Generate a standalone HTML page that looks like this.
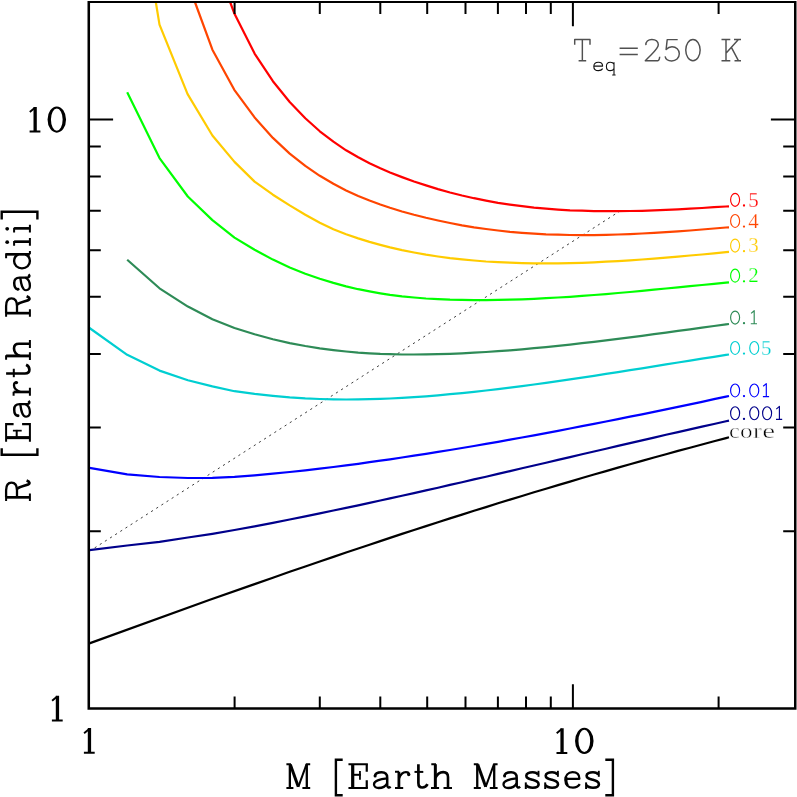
<!DOCTYPE html>
<html><head><meta charset="utf-8"><title>plot</title>
<style>
html,body{margin:0;padding:0;background:#fff;}
body{width:797px;height:797px;overflow:hidden;font-family:"Liberation Serif",serif;}
svg{display:block;position:absolute;left:0;top:0;}
text{font-family:"Liberation Serif",serif;}
.lab{font-size:20.5px;letter-spacing:1.3px;}
</style></head><body>
<svg width="797" height="797" viewBox="0 0 797 797">
<rect x="0" y="0" width="797" height="797" fill="#fff"/>
<line x1="89.5" y1="551.2" x2="619.6" y2="211.3" stroke="#333" stroke-width="0.95" stroke-dasharray="2.2 3.9"/>
<path d="M230.1,2.0 L234.5,13.8 L254.6,53.6 L272.9,81.2 L289.7,102.0 L305.3,118.3 L319.8,131.3 L333.4,141.7 L346.1,150.3 L358.2,157.3 L369.5,163.3 L380.3,168.3 L390.0,172.5 L402.0,177.1 L414.0,181.5 L426.0,185.4 L438.0,189.1 L450.0,192.5 L462.0,195.5 L474.0,198.2 L486.0,200.6 L498.0,202.8 L510.0,204.6 L522.0,206.2 L534.0,207.6 L546.0,208.7 L558.0,209.6 L570.0,210.3 L582.0,210.7 L594.0,211.1 L606.0,211.2 L618.0,211.2 L630.0,211.0 L642.0,210.8 L654.0,210.4 L666.0,209.9 L678.0,209.3 L690.0,208.7 L702.0,208.0 L714.0,207.2 L726.0,206.5 L729.0,206.3" fill="none" stroke="#ff0000" stroke-width="2.2" stroke-linejoin="round"/>
<path d="M194.9,2.0 L212.4,49.7 L234.3,89.8 L254.6,117.4 L272.9,137.9 L289.7,153.6 L305.3,165.9 L319.8,175.8 L333.4,183.8 L346.1,190.4 L358.2,195.9 L369.5,200.5 L380.3,204.5 L390.0,207.8 L402.0,211.5 L414.0,214.8 L426.0,217.8 L438.0,220.5 L450.0,223.0 L462.0,225.3 L474.0,227.3 L486.0,229.0 L498.0,230.5 L510.0,231.8 L522.0,232.8 L534.0,233.6 L546.0,234.3 L558.0,234.7 L570.0,235.0 L582.0,235.1 L594.0,235.1 L606.0,234.9 L618.0,234.5 L630.0,234.1 L642.0,233.5 L654.0,232.9 L666.0,232.2 L678.0,231.3 L690.0,230.5 L702.0,229.5 L714.0,228.5 L726.0,227.5 L729.0,227.3" fill="none" stroke="#ff4500" stroke-width="2.2" stroke-linejoin="round"/>
<path d="M155.8,2.0 L159.5,24.6 L187.6,94.1 L212.4,135.5 L234.5,161.9 L254.6,181.6 L272.9,194.7 L289.7,205.4 L305.3,214.8 L319.8,222.8 L333.4,229.3 L346.1,234.3 L358.2,238.4 L369.5,241.9 L380.3,244.9 L390.0,247.4 L402.0,250.1 L414.0,252.5 L426.0,254.7 L438.0,256.5 L450.0,258.1 L462.0,259.4 L474.0,260.5 L486.0,261.5 L498.0,262.2 L510.0,262.7 L522.0,263.1 L534.0,263.3 L546.0,263.4 L558.0,263.3 L570.0,263.1 L582.0,262.8 L594.0,262.3 L606.0,261.7 L618.0,261.1 L630.0,260.3 L642.0,259.5 L654.0,258.6 L666.0,257.6 L678.0,256.6 L690.0,255.5 L702.0,254.5 L714.0,253.3 L726.0,252.2 L729.0,251.9" fill="none" stroke="#ffcb00" stroke-width="2.2" stroke-linejoin="round"/>
<path d="M127.2,92.3 L159.5,158.1 L187.8,196.5 L212.4,220.1 L234.5,237.6 L254.6,249.8 L272.9,259.6 L289.7,267.4 L305.3,273.7 L319.8,278.8 L333.4,282.9 L346.1,286.4 L358.2,289.2 L369.5,291.4 L380.3,293.3 L390.0,294.8 L402.0,296.3 L414.0,297.5 L426.0,298.5 L438.0,299.2 L450.0,299.7 L462.0,299.9 L474.0,300.1 L486.0,300.1 L498.0,299.9 L510.0,299.6 L522.0,299.3 L534.0,298.8 L546.0,298.2 L558.0,297.5 L570.0,296.8 L582.0,295.9 L594.0,295.0 L606.0,294.1 L618.0,293.0 L630.0,292.0 L642.0,290.9 L654.0,289.7 L666.0,288.5 L678.0,287.4 L690.0,286.2 L702.0,285.0 L714.0,283.8 L726.0,282.6 L729.0,282.3" fill="none" stroke="#00ff00" stroke-width="2.2" stroke-linejoin="round"/>
<path d="M127.2,259.7 L159.5,288.3 L187.9,306.6 L212.4,319.2 L234.5,328.0 L254.6,334.3 L272.9,339.2 L289.7,343.1 L305.3,346.0 L319.8,348.3 L333.4,350.1 L346.1,351.5 L358.2,352.6 L369.5,353.3 L380.3,353.9 L390.0,354.2 L402.0,354.5 L414.0,354.5 L426.0,354.4 L438.0,354.2 L450.0,353.8 L462.0,353.3 L474.0,352.7 L486.0,352.0 L498.0,351.2 L510.0,350.3 L522.0,349.3 L534.0,348.2 L546.0,347.1 L558.0,345.8 L570.0,344.6 L582.0,343.2 L594.0,341.8 L606.0,340.4 L618.0,338.9 L630.0,337.3 L642.0,335.8 L654.0,334.2 L666.0,332.6 L678.0,330.9 L690.0,329.3 L702.0,327.7 L714.0,326.0 L726.0,324.4 L729.0,324.0" fill="none" stroke="#2e8b57" stroke-width="2.2" stroke-linejoin="round"/>
<path d="M89.5,328.0 L127.2,354.8 L159.5,370.6 L187.9,380.2 L212.4,386.4 L234.5,391.2 L254.6,393.9 L272.9,395.9 L289.7,397.4 L305.3,398.4 L319.8,399.0 L333.4,399.4 L346.1,399.5 L358.2,399.4 L369.5,399.2 L380.3,398.9 L390.0,398.5 L402.0,397.9 L414.0,397.1 L426.0,396.3 L438.0,395.3 L450.0,394.2 L462.0,393.1 L474.0,391.8 L486.0,390.5 L498.0,389.1 L510.0,387.6 L522.0,386.1 L534.0,384.5 L546.0,382.8 L558.0,381.1 L570.0,379.4 L582.0,377.6 L594.0,375.8 L606.0,373.9 L618.0,372.1 L630.0,370.2 L642.0,368.3 L654.0,366.4 L666.0,364.4 L678.0,362.5 L690.0,360.6 L702.0,358.7 L714.0,356.8 L726.0,354.9 L729.0,354.5" fill="none" stroke="#00ced1" stroke-width="2.2" stroke-linejoin="round"/>
<path d="M89.5,467.8 L127.2,474.3 L159.5,477.0 L187.9,478.0 L212.4,477.8 L234.5,476.8 L254.6,475.3 L272.9,473.7 L289.7,472.0 L305.3,470.3 L319.8,468.7 L333.4,467.0 L346.1,465.4 L358.2,463.8 L369.5,462.2 L380.3,460.7 L390.0,459.3 L402.0,457.5 L414.0,455.7 L426.0,453.9 L438.0,451.9 L450.0,450.0 L462.0,448.0 L474.0,446.0 L486.0,443.9 L498.0,441.8 L510.0,439.7 L522.0,437.5 L534.0,435.3 L546.0,433.1 L558.0,430.8 L570.0,428.5 L582.0,426.2 L594.0,423.9 L606.0,421.5 L618.0,419.1 L630.0,416.7 L642.0,414.3 L654.0,411.8 L666.0,409.3 L678.0,406.8 L690.0,404.3 L702.0,401.8 L714.0,399.2 L726.0,396.6 L729.0,396.0" fill="none" stroke="#0000ff" stroke-width="2.2" stroke-linejoin="round"/>
<path d="M89.5,550.1 L127.2,545.5 L159.5,541.8 L187.9,537.5 L212.4,533.8 L234.5,530.0 L254.6,526.3 L272.9,522.8 L289.7,519.5 L305.3,516.3 L319.8,513.4 L333.4,510.5 L346.1,507.9 L358.2,505.3 L369.5,502.9 L380.3,500.5 L390.0,498.4 L402.0,495.7 L414.0,493.1 L426.0,490.4 L438.0,487.7 L450.0,484.9 L462.0,482.2 L474.0,479.4 L486.0,476.7 L498.0,473.9 L510.0,471.1 L522.0,468.3 L534.0,465.5 L546.0,462.7 L558.0,459.9 L570.0,457.1 L582.0,454.3 L594.0,451.5 L606.0,448.7 L618.0,445.9 L630.0,443.1 L642.0,440.4 L654.0,437.6 L666.0,434.8 L678.0,432.1 L690.0,429.4 L702.0,426.6 L714.0,424.0 L726.0,421.3 L729.0,420.6" fill="none" stroke="#00008b" stroke-width="2.2" stroke-linejoin="round"/>
<path d="M89.4,643.4 L209.2,600.0 L254.6,584.1 L272.9,577.7 L289.7,571.8 L305.3,566.5 L319.8,561.5 L333.4,556.9 L346.1,552.5 L358.2,548.5 L369.5,544.7 L380.3,541.1 L390.0,537.9 L402.0,533.9 L414.0,530.0 L426.0,526.1 L438.0,522.2 L450.0,518.4 L462.0,514.6 L474.0,510.8 L486.0,507.1 L498.0,503.3 L510.0,499.6 L522.0,496.0 L534.0,492.3 L546.0,488.7 L558.0,485.1 L570.0,481.6 L582.0,478.0 L594.0,474.5 L606.0,471.1 L618.0,467.6 L630.0,464.2 L642.0,460.9 L654.0,457.5 L666.0,454.2 L678.0,450.9 L690.0,447.7 L702.0,444.5 L714.0,441.3 L726.0,438.1 L729.0,437.3" fill="none" stroke="#000000" stroke-width="2.2" stroke-linejoin="round"/>
<path d="M87.5,1.1H796.5V709.7H87.5Z M90.05,2.95V707.3H794.0V2.95Z" fill="#000" fill-rule="evenodd"/>
<path d="M234.6,708.5 v-12.0 M234.6,2.0 v12.0 M88.8,531.2 h12.0 M795.2,531.2 h-12.0 M319.8,708.5 v-12.0 M319.8,2.0 v12.0 M88.8,427.5 h12.0 M795.2,427.5 h-12.0 M380.3,708.5 v-12.0 M380.3,2.0 v12.0 M88.8,353.9 h12.0 M795.2,353.9 h-12.0 M427.2,708.5 v-12.0 M427.2,2.0 v12.0 M88.8,296.8 h12.0 M795.2,296.8 h-12.0 M465.5,708.5 v-12.0 M465.5,2.0 v12.0 M88.8,250.2 h12.0 M795.2,250.2 h-12.0 M497.9,708.5 v-12.0 M497.9,2.0 v12.0 M88.8,210.7 h12.0 M795.2,210.7 h-12.0 M526.0,708.5 v-12.0 M526.0,2.0 v12.0 M88.8,176.6 h12.0 M795.2,176.6 h-12.0 M550.8,708.5 v-12.0 M550.8,2.0 v12.0 M88.8,146.5 h12.0 M795.2,146.5 h-12.0 M572.9,708.5 v-24.3 M572.9,2.0 v24.3 M88.8,119.5 h24.3 M795.2,119.5 h-24.3 M718.6,708.5 v-12.0 M718.6,2.0 v12.0" fill="none" stroke="#000" stroke-width="2"/>
<path d="M33.50,106.90 h3.3 v25.7 h-3.3 Z M29.60,130.60 h10.8 v2.0 h-10.8 Z" fill="#000"/><path d="M29.80,112.00 L34.90,107.70" stroke="#000" stroke-width="1.9" fill="none"/>
<path d="M47.55,119.60 a9.25,13.05 0 1,0 18.50,0 a9.25,13.05 0 1,0 -18.50,0 Z M50.95,119.60 a5.85,11.10 0 1,0 11.70,0 a5.85,11.10 0 1,0 -11.70,0 Z" fill="#000" fill-rule="evenodd"/>
<path d="M55.80,695.70 h3.3 v25.7 h-3.3 Z M51.90,719.40 h10.8 v2.0 h-10.8 Z" fill="#000"/><path d="M52.10,700.80 L57.20,696.50" stroke="#000" stroke-width="1.9" fill="none"/>
<path d="M87.80,728.10 h3.3 v25.7 h-3.3 Z M83.90,751.80 h10.8 v2.0 h-10.8 Z" fill="#000"/><path d="M84.10,733.20 L89.20,728.90" stroke="#000" stroke-width="1.9" fill="none"/>
<path d="M560.40,728.20 h3.3 v25.7 h-3.3 Z M556.50,751.90 h10.8 v2.0 h-10.8 Z" fill="#000"/><path d="M556.70,733.30 L561.80,729.00" stroke="#000" stroke-width="1.9" fill="none"/>
<path d="M575.05,740.90 a9.25,13.05 0 1,0 18.50,0 a9.25,13.05 0 1,0 -18.50,0 Z M578.45,740.90 a5.85,11.10 0 1,0 11.70,0 a5.85,11.10 0 1,0 -11.70,0 Z" fill="#000" fill-rule="evenodd"/>
<g style="opacity:0.999" stroke="#fff" stroke-width="0.55">
<g stroke="none"><ellipse cx="735.10" cy="199.85" rx="4.5" ry="6.5" fill="none" stroke="#ff0000" stroke-width="1.15"/><circle cx="744.00" cy="205.50" r="1.15" fill="#ff0000"/><text x="748.20" y="206.6" fill="#ff0000" font-size="21" stroke="#fff" stroke-width="0.25">5</text></g>
<g stroke="none"><ellipse cx="735.10" cy="220.95" rx="4.5" ry="6.5" fill="none" stroke="#ff4500" stroke-width="1.15"/><circle cx="744.00" cy="226.60" r="1.15" fill="#ff4500"/><text x="748.20" y="227.7" fill="#ff4500" font-size="21" stroke="#fff" stroke-width="0.25">4</text></g>
<g stroke="none"><ellipse cx="735.10" cy="245.55" rx="4.5" ry="6.5" fill="none" stroke="#ffcb00" stroke-width="1.15"/><circle cx="744.00" cy="251.20" r="1.15" fill="#ffcb00"/><text x="748.20" y="252.3" fill="#ffcb00" font-size="21" stroke="#fff" stroke-width="0.25">3</text></g>
<g stroke="none"><ellipse cx="735.10" cy="275.65" rx="4.5" ry="6.5" fill="none" stroke="#00ff00" stroke-width="1.15"/><circle cx="744.00" cy="281.30" r="1.15" fill="#00ff00"/><text x="748.20" y="282.4" fill="#00ff00" font-size="21" stroke="#fff" stroke-width="0.25">2</text></g>
<g stroke="none"><ellipse cx="735.10" cy="317.55" rx="4.5" ry="6.5" fill="none" stroke="#2e8b57" stroke-width="1.15"/><circle cx="744.00" cy="323.20" r="1.15" fill="#2e8b57"/><path d="M751.10,313.40 L754.20,310.70 V323.70 M750.80,323.70 h6.2" fill="none" stroke="#2e8b57" stroke-width="1.15" stroke-linejoin="round"/></g>
<g stroke="none"><ellipse cx="735.10" cy="347.95" rx="4.5" ry="6.5" fill="none" stroke="#00ced1" stroke-width="1.15"/><circle cx="744.00" cy="353.60" r="1.15" fill="#00ced1"/><ellipse cx="754.25" cy="347.95" rx="4.5" ry="6.5" fill="none" stroke="#00ced1" stroke-width="1.15"/><text x="761.00" y="354.7" fill="#00ced1" font-size="21" stroke="#fff" stroke-width="0.25">5</text></g>
<g stroke="none"><ellipse cx="735.10" cy="390.45" rx="4.5" ry="6.5" fill="none" stroke="#0000ff" stroke-width="1.15"/><circle cx="744.00" cy="396.10" r="1.15" fill="#0000ff"/><ellipse cx="754.25" cy="390.45" rx="4.5" ry="6.5" fill="none" stroke="#0000ff" stroke-width="1.15"/><path d="M763.20,386.30 L766.30,383.60 V396.60 M762.90,396.60 h6.2" fill="none" stroke="#0000ff" stroke-width="1.15" stroke-linejoin="round"/></g>
<g stroke="none"><ellipse cx="735.10" cy="413.25" rx="4.5" ry="6.5" fill="none" stroke="#00008b" stroke-width="1.15"/><circle cx="744.00" cy="418.90" r="1.15" fill="#00008b"/><ellipse cx="754.25" cy="413.25" rx="4.5" ry="6.5" fill="none" stroke="#00008b" stroke-width="1.15"/><ellipse cx="767.10" cy="413.25" rx="4.5" ry="6.5" fill="none" stroke="#00008b" stroke-width="1.15"/><path d="M776.30,409.10 L779.40,406.40 V419.40 M776.00,419.40 h6.2" fill="none" stroke="#00008b" stroke-width="1.15" stroke-linejoin="round"/></g>
<g stroke-width="0.5"><text transform="translate(728.99,438.00) scale(1.103,1)" font-size="22" fill="#000000">c</text><text transform="translate(739.96,438.00) scale(1.144,1)" font-size="22" fill="#000000">o</text><text transform="translate(752.97,438.00) scale(1.207,1)" font-size="22" fill="#000000">r</text><text transform="translate(762.34,438.00) scale(1.314,1)" font-size="22" fill="#000000">e</text></g>
<path transform="translate(574.00,61.40)" d="M0.7,-16.6V-21.9H16.0V-16.6 M8.35,-21.9V-0.6 M4.6,-0.6H12.2" fill="none" stroke="#505050" stroke-width="1.45" stroke-linejoin="round"/>
<path transform="translate(619.60,61.40)" d="M0,-13.2H18.2 M0,-6.9H18.2" fill="none" stroke="#505050" stroke-width="1.45" stroke-linejoin="round"/>
<path transform="translate(644.70,61.40)" d="M1.2,-16.2C0.8,-19.5 3.5,-22 7.2,-22C11,-22 13.6,-19.8 13.6,-16.6C13.6,-12.5 9,-9.5 0.6,-0.7L13.2,-0.7C14.2,-0.7 14.8,-2.5 15,-4.6" fill="none" stroke="#505050" stroke-width="1.45" stroke-linejoin="round"/>
<path transform="translate(664.40,61.40)" d="M13.3,-21.8L2.8,-21.8L1.7,-11.8C3.5,-13.8 5.5,-14.6 7.6,-14.6C11.8,-14.6 14.9,-11.8 14.9,-7.6C14.9,-3.4 11.5,-0.5 7.3,-0.5C3.8,-0.5 1.2,-2.3 0.7,-5" fill="none" stroke="#505050" stroke-width="1.45" stroke-linejoin="round"/>
<path transform="translate(685.10,61.40)" d="M0.65,-11.3a7.2,10.7 0 1,0 14.4,0a7.2,10.7 0 1,0 -14.4,0Z" fill="none" stroke="#505050" stroke-width="1.45" stroke-linejoin="round"/>
<path transform="translate(721.50,61.40)" d="M0,-21.9H8.8 M0,-0.6H8.8 M4.5,-21.9V-0.6 M4.5,-8.2L16.9,-21.8 M12.5,-21.9H19.5 M10,-13.8L16.9,-0.7 M13,-0.6H19.5" fill="none" stroke="#505050" stroke-width="1.45" stroke-linejoin="round"/>
<path transform="translate(593.20,70.80)" d="M0.6,-4.7L9.4,-4.7C9.4,-7.5 7.5,-8.6 5.2,-8.6C2.4,-8.6 0.6,-6.8 0.6,-4.4C0.6,-1.8 2.6,-0.2 5.3,-0.2C7.2,-0.2 8.6,-0.9 9.5,-2.2" fill="none" stroke="#111" stroke-width="1.1" stroke-linejoin="round"/>
<path transform="translate(605.80,70.80)" d="M8.2,-6.5C7.5,-8 6,-8.6 4.5,-8.6C2,-8.6 0.6,-6.8 0.6,-4.4C0.6,-2 2,-0.2 4.5,-0.2C6,-0.2 7.5,-1 8.2,-2.4 M8.2,-8.6V4.2 M6.4,4.2H9.8" fill="none" stroke="#111" stroke-width="1.1" stroke-linejoin="round"/>
</g>
<g style="opacity:0.999">
<g transform="translate(286.40,789.00)"><path d="M0,-24.8H4.6 M19.4,-24.8H23.8 M0,-1H7 M16,-1H23.8" fill="none" stroke="#000" stroke-width="2.0" stroke-linejoin="round"/><path d="M3.45,-24.8V-1 M20.4,-24.8V-1" fill="none" stroke="#000" stroke-width="2.3" stroke-linejoin="round"/><path d="M3.9,-24.6L11.9,-2.2" fill="none" stroke="#000" stroke-width="3.0" stroke-linejoin="round"/><path d="M20.1,-24.6L11.9,-2.2" fill="none" stroke="#000" stroke-width="2.0" stroke-linejoin="round"/></g>
<g transform="translate(348.45,789.00)"><path d="M0,-24.8H19.4 M0,-1H19.4" fill="none" stroke="#000" stroke-width="2.0" stroke-linejoin="round"/><path d="M4.25,-24.8V-1" fill="none" stroke="#000" stroke-width="3.2" stroke-linejoin="round"/><path d="M18.3,-24.8V-17.3 M18.3,-1V-8.8" fill="none" stroke="#000" stroke-width="2.2" stroke-linejoin="round"/><path d="M4.25,-14.2H12.3" fill="none" stroke="#000" stroke-width="2.0" stroke-linejoin="round"/><path d="M11.5,-18V-9.2" fill="none" stroke="#000" stroke-width="1.8" stroke-linejoin="round"/></g>
<g transform="translate(372.60,789.00)"><path d="M2.3,-12.8C2.6,-16 6,-16.7 9,-16.7C13,-16.7 14.6,-14.6 14.6,-11.3L14.6,-4C14.6,-1.4 16.2,-0.7 18,-2.4" fill="none" stroke="#000" stroke-width="2.5" stroke-linejoin="round"/><path d="M14.6,-10.6C9,-9.9 1.4,-9 1.4,-4.8C1.4,-2 3.6,-1 6,-1C9.5,-1 13,-2.6 14.6,-5.6" fill="none" stroke="#000" stroke-width="2.3" stroke-linejoin="round"/><circle cx="2.5" cy="-12.9" r="1.5" fill="#000"/></g>
<g transform="translate(395.00,789.00)"><path d="M0,-17.3H4 M0,-1H8.2" fill="none" stroke="#000" stroke-width="2.0" stroke-linejoin="round"/><path d="M3.9,-17.3V-1" fill="none" stroke="#000" stroke-width="2.8" stroke-linejoin="round"/><path d="M3.9,-10.5C5.5,-14.8 8,-16.9 10.9,-16.9C12.6,-16.9 13.9,-16.0 13.9,-14.6" fill="none" stroke="#000" stroke-width="2.3" stroke-linejoin="round"/><circle cx="13.7" cy="-14.5" r="1.7" fill="#000"/></g>
<g transform="translate(414.50,789.00)"><path d="M3.9,-24.8L3.9,-6C3.9,-2.8 5.5,-1.5 7.8,-1.5C10.2,-1.5 12,-2.8 13,-4.8" fill="none" stroke="#000" stroke-width="2.7" stroke-linejoin="round"/><path d="M0,-17.1H8.8" fill="none" stroke="#000" stroke-width="2.0" stroke-linejoin="round"/></g>
<g transform="translate(431.00,789.00)"><path d="M0.3,-24.8H5 M0,-1H8.1 M12.5,-1H21" fill="none" stroke="#000" stroke-width="2.0" stroke-linejoin="round"/><path d="M4.35,-24.8V-1" fill="none" stroke="#000" stroke-width="3.0" stroke-linejoin="round"/><path d="M4.35,-11C6,-14.8 9,-16.9 12.2,-16.9C15.5,-16.9 17,-15.2 17,-12L17,-1" fill="none" stroke="#000" stroke-width="2.6" stroke-linejoin="round"/></g>
<g transform="translate(473.80,789.00)"><path d="M0,-24.8H4.6 M19.4,-24.8H23.8 M0,-1H7 M16,-1H23.8" fill="none" stroke="#000" stroke-width="2.0" stroke-linejoin="round"/><path d="M3.45,-24.8V-1 M20.4,-24.8V-1" fill="none" stroke="#000" stroke-width="2.3" stroke-linejoin="round"/><path d="M3.9,-24.6L11.9,-2.2" fill="none" stroke="#000" stroke-width="3.0" stroke-linejoin="round"/><path d="M20.1,-24.6L11.9,-2.2" fill="none" stroke="#000" stroke-width="2.0" stroke-linejoin="round"/></g>
<g transform="translate(502.10,789.00)"><path d="M2.3,-12.8C2.6,-16 6,-16.7 9,-16.7C13,-16.7 14.6,-14.6 14.6,-11.3L14.6,-4C14.6,-1.4 16.2,-0.7 18,-2.4" fill="none" stroke="#000" stroke-width="2.5" stroke-linejoin="round"/><path d="M14.6,-10.6C9,-9.9 1.4,-9 1.4,-4.8C1.4,-2 3.6,-1 6,-1C9.5,-1 13,-2.6 14.6,-5.6" fill="none" stroke="#000" stroke-width="2.3" stroke-linejoin="round"/><circle cx="2.5" cy="-12.9" r="1.5" fill="#000"/></g>
<g transform="translate(524.70,789.00)"><path d="M13.4,-14.4C12.4,-16.1 10.5,-16.8 8,-16.8C4.5,-16.8 1.6,-15.7 1.6,-13.3C1.6,-10.8 4,-10.3 7.5,-9.3C11,-8.3 13.9,-7.6 13.9,-4.8C13.9,-2.2 11,-1.3 8,-1.3C5,-1.3 2.6,-2.2 1.4,-4" fill="none" stroke="#000" stroke-width="2.6" stroke-linejoin="round"/><path d="M13.8,-18.2V-12.2" fill="none" stroke="#000" stroke-width="1.9" stroke-linejoin="round"/><path d="M1.1,-6.6V0" fill="none" stroke="#000" stroke-width="2.0" stroke-linejoin="round"/></g>
<g transform="translate(544.10,789.00)"><path d="M13.4,-14.4C12.4,-16.1 10.5,-16.8 8,-16.8C4.5,-16.8 1.6,-15.7 1.6,-13.3C1.6,-10.8 4,-10.3 7.5,-9.3C11,-8.3 13.9,-7.6 13.9,-4.8C13.9,-2.2 11,-1.3 8,-1.3C5,-1.3 2.6,-2.2 1.4,-4" fill="none" stroke="#000" stroke-width="2.6" stroke-linejoin="round"/><path d="M13.8,-18.2V-12.2" fill="none" stroke="#000" stroke-width="1.9" stroke-linejoin="round"/><path d="M1.1,-6.6V0" fill="none" stroke="#000" stroke-width="2.0" stroke-linejoin="round"/></g>
<g transform="translate(563.50,789.00)"><path d="M1.8,-10.2L15.9,-10.2C15.9,-14.6 13,-16.8 9,-16.8C4.5,-16.8 1.9,-13.3 1.9,-9C1.9,-4.6 4.5,-1.3 9.5,-1.3C12.5,-1.3 14.8,-2.5 16.3,-4.8" fill="none" stroke="#000" stroke-width="2.3" stroke-linejoin="round"/><path d="M2.6,-12C2.4,-8 2.8,-5.5 4.2,-3.6" fill="none" stroke="#000" stroke-width="2.6" stroke-linejoin="round"/></g>
<g transform="translate(585.00,789.00)"><path d="M13.4,-14.4C12.4,-16.1 10.5,-16.8 8,-16.8C4.5,-16.8 1.6,-15.7 1.6,-13.3C1.6,-10.8 4,-10.3 7.5,-9.3C11,-8.3 13.9,-7.6 13.9,-4.8C13.9,-2.2 11,-1.3 8,-1.3C5,-1.3 2.6,-2.2 1.4,-4" fill="none" stroke="#000" stroke-width="2.6" stroke-linejoin="round"/><path d="M13.8,-18.2V-12.2" fill="none" stroke="#000" stroke-width="1.9" stroke-linejoin="round"/><path d="M1.1,-6.6V0" fill="none" stroke="#000" stroke-width="2.0" stroke-linejoin="round"/></g>
<path d="M342.7,759.7H335.9V795.2H342.7 M605.3,759.7H612.9V795.2H605.3" fill="none" stroke="#000" stroke-width="2.4"/>
<g transform="translate(30.90,500.90) rotate(-90) scale(0.96,1)"><path d="M0,-24.8H5.3 M0,-1H7.8" fill="none" stroke="#000" stroke-width="2.0" stroke-linejoin="round"/><path d="M3.7,-24.8V-1" fill="none" stroke="#000" stroke-width="2.8" stroke-linejoin="round"/><path d="M3.7,-24.8L11,-24.8C16.5,-24.8 19,-22.5 19,-19.4C19,-16 16.5,-13.9 11,-13.9L3.7,-13.9" fill="none" stroke="#000" stroke-width="2.3" stroke-linejoin="round"/><path d="M12.3,-13.9C15,-12 15.6,-6 17.1,-2.8C18,-0.8 20,-0.9 21.3,-4.3" fill="none" stroke="#000" stroke-width="2.7" stroke-linejoin="round"/></g>
<g transform="translate(30.90,441.70) rotate(-90) scale(0.96,1)"><path d="M0,-24.8H19.4 M0,-1H19.4" fill="none" stroke="#000" stroke-width="2.0" stroke-linejoin="round"/><path d="M4.25,-24.8V-1" fill="none" stroke="#000" stroke-width="3.2" stroke-linejoin="round"/><path d="M18.3,-24.8V-17.3 M18.3,-1V-8.8" fill="none" stroke="#000" stroke-width="2.2" stroke-linejoin="round"/><path d="M4.25,-14.2H12.3" fill="none" stroke="#000" stroke-width="2.0" stroke-linejoin="round"/><path d="M11.5,-18V-9.2" fill="none" stroke="#000" stroke-width="1.8" stroke-linejoin="round"/></g>
<g transform="translate(30.90,418.10) rotate(-90) scale(0.96,1)"><path d="M2.3,-12.8C2.6,-16 6,-16.7 9,-16.7C13,-16.7 14.6,-14.6 14.6,-11.3L14.6,-4C14.6,-1.4 16.2,-0.7 18,-2.4" fill="none" stroke="#000" stroke-width="2.5" stroke-linejoin="round"/><path d="M14.6,-10.6C9,-9.9 1.4,-9 1.4,-4.8C1.4,-2 3.6,-1 6,-1C9.5,-1 13,-2.6 14.6,-5.6" fill="none" stroke="#000" stroke-width="2.3" stroke-linejoin="round"/><circle cx="2.5" cy="-12.9" r="1.5" fill="#000"/></g>
<g transform="translate(30.90,395.70) rotate(-90) scale(0.96,1)"><path d="M0,-17.3H4 M0,-1H8.2" fill="none" stroke="#000" stroke-width="2.0" stroke-linejoin="round"/><path d="M3.9,-17.3V-1" fill="none" stroke="#000" stroke-width="2.8" stroke-linejoin="round"/><path d="M3.9,-10.5C5.5,-14.8 8,-16.9 10.9,-16.9C12.6,-16.9 13.9,-16.0 13.9,-14.6" fill="none" stroke="#000" stroke-width="2.3" stroke-linejoin="round"/><circle cx="13.7" cy="-14.5" r="1.7" fill="#000"/></g>
<g transform="translate(30.90,377.20) rotate(-90) scale(0.96,1)"><path d="M3.9,-24.8L3.9,-6C3.9,-2.8 5.5,-1.5 7.8,-1.5C10.2,-1.5 12,-2.8 13,-4.8" fill="none" stroke="#000" stroke-width="2.7" stroke-linejoin="round"/><path d="M0,-17.1H8.8" fill="none" stroke="#000" stroke-width="2.0" stroke-linejoin="round"/></g>
<g transform="translate(30.90,360.10) rotate(-90) scale(0.96,1)"><path d="M0.3,-24.8H5 M0,-1H8.1 M12.5,-1H21" fill="none" stroke="#000" stroke-width="2.0" stroke-linejoin="round"/><path d="M4.35,-24.8V-1" fill="none" stroke="#000" stroke-width="3.0" stroke-linejoin="round"/><path d="M4.35,-11C6,-14.8 9,-16.9 12.2,-16.9C15.5,-16.9 17,-15.2 17,-12L17,-1" fill="none" stroke="#000" stroke-width="2.6" stroke-linejoin="round"/></g>
<g transform="translate(30.90,316.70) rotate(-90) scale(0.96,1)"><path d="M0,-24.8H5.3 M0,-1H7.8" fill="none" stroke="#000" stroke-width="2.0" stroke-linejoin="round"/><path d="M3.7,-24.8V-1" fill="none" stroke="#000" stroke-width="2.8" stroke-linejoin="round"/><path d="M3.7,-24.8L11,-24.8C16.5,-24.8 19,-22.5 19,-19.4C19,-16 16.5,-13.9 11,-13.9L3.7,-13.9" fill="none" stroke="#000" stroke-width="2.3" stroke-linejoin="round"/><path d="M12.3,-13.9C15,-12 15.6,-6 17.1,-2.8C18,-0.8 20,-0.9 21.3,-4.3" fill="none" stroke="#000" stroke-width="2.7" stroke-linejoin="round"/></g>
<g transform="translate(30.90,291.60) rotate(-90) scale(0.96,1)"><path d="M2.3,-12.8C2.6,-16 6,-16.7 9,-16.7C13,-16.7 14.6,-14.6 14.6,-11.3L14.6,-4C14.6,-1.4 16.2,-0.7 18,-2.4" fill="none" stroke="#000" stroke-width="2.5" stroke-linejoin="round"/><path d="M14.6,-10.6C9,-9.9 1.4,-9 1.4,-4.8C1.4,-2 3.6,-1 6,-1C9.5,-1 13,-2.6 14.6,-5.6" fill="none" stroke="#000" stroke-width="2.3" stroke-linejoin="round"/><circle cx="2.5" cy="-12.9" r="1.5" fill="#000"/></g>
<g transform="translate(30.90,269.60) rotate(-90) scale(0.96,1)"><path d="M11.8,-24.8H17 M15.9,-1H19.5" fill="none" stroke="#000" stroke-width="2.0" stroke-linejoin="round"/><path d="M15.9,-24.8V-1" fill="none" stroke="#000" stroke-width="2.8" stroke-linejoin="round"/><path d="M15.9,-12.5C14.5,-15.5 12,-16.8 9,-16.8C4.5,-16.8 1.3,-13.5 1.3,-8.9C1.3,-4.3 4.5,-1 9,-1C12,-1 14.5,-2.5 15.9,-5.5" fill="none" stroke="#000" stroke-width="2.4" stroke-linejoin="round"/></g>
<g transform="translate(30.90,245.80) rotate(-90) scale(0.96,1)"><path d="M0,-16.8H5 M0,-1H8" fill="none" stroke="#000" stroke-width="2.0" stroke-linejoin="round"/><path d="M4.3,-16.8V-1" fill="none" stroke="#000" stroke-width="2.8" stroke-linejoin="round"/><circle cx="3.8" cy="-23.7" r="1.9" fill="#000"/></g>
<g transform="translate(30.90,232.50) rotate(-90) scale(0.96,1)"><path d="M0,-16.8H5 M0,-1H8" fill="none" stroke="#000" stroke-width="2.0" stroke-linejoin="round"/><path d="M4.3,-16.8V-1" fill="none" stroke="#000" stroke-width="2.8" stroke-linejoin="round"/><circle cx="3.8" cy="-23.7" r="1.9" fill="#000"/></g>
<g transform="translate(30.6,510) rotate(-90)"><path d="M61.8,-28.9H55.3V6.8H61.8 M290.4,-28.9H298.2V6.8H290.4" fill="none" stroke="#000" stroke-width="2.4"/></g>
</g>
</svg></body></html>
